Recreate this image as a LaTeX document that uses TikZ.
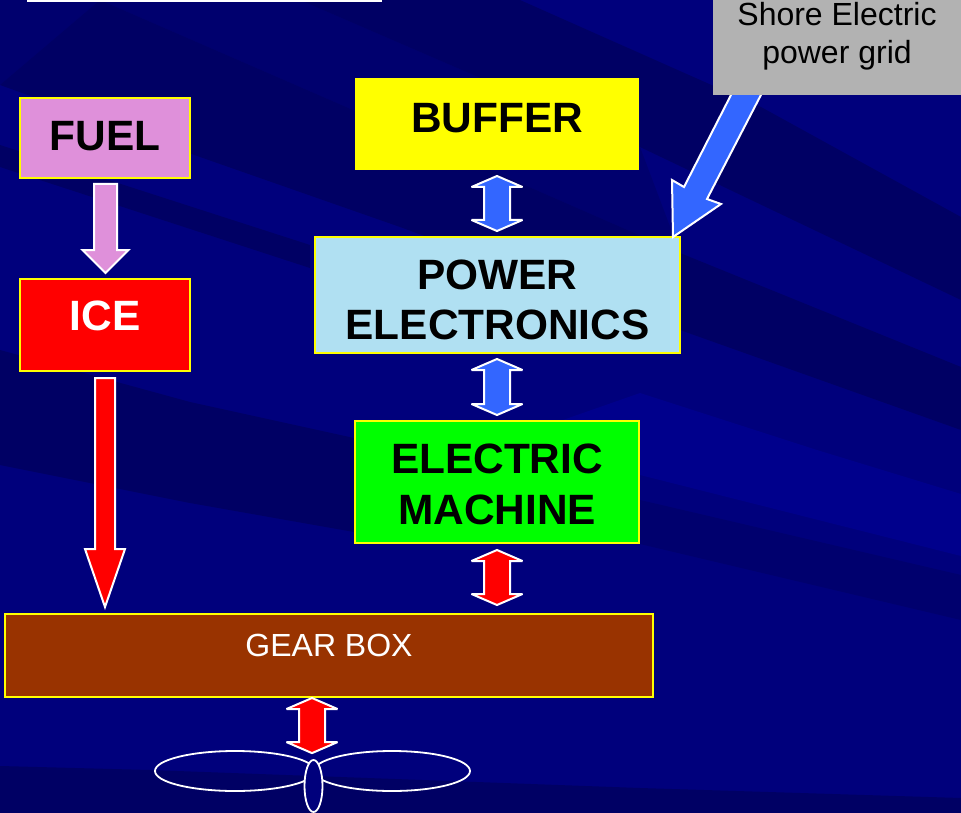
\documentclass[tikz,border=0pt]{standalone}
\usepackage{fontspec}
\setmainfont{Liberation Sans}
\usetikzlibrary{calc,shapes.geometric}
\definecolor{bgbase}{HTML}{00007C}
\definecolor{bgdark}{HTML}{000064}
\definecolor{bgmid}{HTML}{00006E}
\definecolor{bgbright}{HTML}{00008C}
\definecolor{fuelc}{HTML}{DF90DA}
\definecolor{pec}{HTML}{B0E0F2}
\definecolor{gearc}{HTML}{993300}
\definecolor{gridc}{HTML}{B2B2B2}
\definecolor{bluec}{HTML}{3366FF}
\definecolor{yel}{RGB}{255,255,0}
\definecolor{redc}{RGB}{255,0,0}
\definecolor{greenc}{RGB}{0,255,0}
\tikzset{
  box/.style={draw=yel,line width=2pt,inner sep=0pt,align=center,font=\fontsize{42.4}{50.5}\selectfont\bfseries,text=black},
  boxtext/.style={inner sep=0pt,align=center,font=\fontsize{42.4}{50.5}\selectfont\bfseries,text=black},
  plain/.style={inner sep=0pt,align=center,font=\fontsize{32}{38}\selectfont},
  blockarrow/.style={draw=white,line width=2pt,line join=miter,miter limit=4},
  band/.style={fill=#1,draw=none},
  blade/.style={draw=white,line width=1.8pt}
}
\newcommand{\blockdown}[6]{% from, to, colour, shaft half, head half, head length
  \draw[blockarrow,fill=#3] ($(#1)+(-#4,0)$) -- ($(#1)+(#4,0)$) -- ($(#2)+(#4,-#6)$) -- ($(#2)+(#5,-#6)$) -- (#2) -- ($(#2)+(-#5,-#6)$) -- ($(#2)+(-#4,-#6)$) -- cycle;}
\newcommand{\blockboth}[3]{% top, bottom, colour
  \draw[blockarrow,fill=#3] (#1) -- ($(#1)+(25.5,11)$) -- ($(#1)+(13,11)$) -- ($(#2)+(13,-11)$) -- ($(#2)+(25.5,-11)$) -- (#2) -- ($(#2)+(-25.5,-11)$) -- ($(#2)+(-13,-11)$) -- ($(#1)+(-13,11)$) -- ($(#1)+(-25.5,11)$) -- cycle;}
\begin{document}
\begin{tikzpicture}[x=1pt,y=-1pt]
\useasboundingbox (0,0) rectangle (961,813);
\clip (0,0) rectangle (961,813);
% background
\fill[bgbase] (0,0) rectangle (961,813);
\fill[band=bgmid] (0,0) -- (100,0) -- (0,85) -- cycle;
\fill[band=bgmid] (100,0) -- (300,0) -- (640,147) -- (680,253) -- (353,110) -- cycle;
\fill[band=bgdark] (100,0) -- (353,110) -- (680,253) -- (961,367) -- (961,430) -- (680,330) -- (400,227) -- (200,157) -- (0,85) -- cycle;
\fill[band=bgdark] (300,0) -- (520,0) -- (761,107) -- (961,217) -- (961,300) -- (640,147) -- cycle;
\fill[band=bgdark] (0,145) -- (310,245) -- (310,268) -- (0,167) -- cycle;
\fill[band=bgdark] (0,350) -- (190,402) -- (354,438) -- (640,500) -- (640,540) -- (354,532) -- (190,503) -- (0,465) -- cycle;
\fill[band=bgmid] (640,500) -- (961,575) -- (961,620) -- (640,544) -- cycle;
\fill[band=bgbright] (560,421) -- (640,393) -- (817,450) -- (961,494) -- (961,556) -- (640,475) -- cycle;
\fill[band=bgdark] (0,766) -- (150,770) -- (640,788) -- (961,798) -- (961,813) -- (0,813) -- cycle;
% top frame
\node[draw=white,line width=2pt,minimum width=353pt,minimum height=30pt,anchor=south west,inner sep=0pt] (frame) at (26.5,2.5) {};
% boxes
\node[box,fill=fuelc,minimum width=170pt,minimum height=80pt,text height=30pt,text depth=4pt] (fuel) at (105,138) {FUEL};
\node[box,fill=redc,text=white,minimum width=170pt,minimum height=92pt,text height=30pt,text depth=20pt] (ice) at (105,325) {ICE};
\node[box,fill=yel,minimum width=282pt,minimum height=90pt,text height=30pt,text depth=12pt] (buffer) at (497,124) {BUFFER};
\node[box,fill=pec,minimum width=365pt,minimum height=116pt] (pe) at (497.5,295) {};
\node[boxtext] (pelabel) at ($(pe.center)+(0,5)$) {POWER\\ELECTRONICS};
\node[box,fill=greenc,minimum width=284pt,minimum height=122pt] (em) at (497,482) {};
\node[boxtext] (emlabel) at ($(em.center)+(0,2.5)$) {ELECTRIC\\MACHINE};
\node[box,fill=gearc,minimum width=648pt,minimum height=83pt,font=\fontsize{32}{38}\selectfont,text=white,text height=23pt,text depth=21pt] (gear) at (329,655.5) {GEAR BOX};
% propeller
\node[blade,ellipse,minimum width=160pt,minimum height=40pt,inner sep=0pt] (bladeL) at (235,771) {};
\node[blade,ellipse,minimum width=156pt,minimum height=40pt,inner sep=0pt] (bladeR) at (392,771) {};
\node[blade,ellipse,fill=bgbase,minimum width=18pt,minimum height=52pt,inner sep=0pt] (hub) at (313.5,786) {};
% arrows
\coordinate (a1) at ($(fuel.south)+(0.5,5)$);
\coordinate (b1) at ($(ice.north)+(0.5,-5)$);
\blockdown{a1}{b1}{fuelc}{11.5}{23}{23}
\coordinate (a2) at ($(ice.south)+(0,6)$);
\coordinate (b2) at ($(ice.south |- gear.north)+(0,-6)$);
\blockdown{a2}{b2}{redc}{10}{20}{58}
\coordinate (c1) at ($(buffer.south)+(0,6)$);
\coordinate (d1) at ($(pe.north)+(-0.5,-5)$);
\blockboth{c1}{d1}{bluec}
\coordinate (c2) at ($(pe.south)+(-0.5,5)$);
\coordinate (d2) at ($(em.north)+(0,-5)$);
\blockboth{c2}{d2}{bluec}
\coordinate (c3) at ($(em.south)+(0,6)$);
\coordinate (d3) at ($(em.south |- gear.north)+(0,-8)$);
\blockboth{c3}{d3}{redc}
\coordinate (c4) at ($(hub.north |- gear.south)+(-1.5,0)$);
\coordinate (d4) at ($(hub.north)+(-1.5,-6)$);
\blockboth{c4}{d4}{redc}
% shore grid arrow
\coordinate (tip) at ($(pe.north east)+(-8,1)$);
\draw[blockarrow,fill=bluec] (tip) -- ($(tip)+(48,-33)$) -- ($(tip)+(34,-38)$) -- ($(tip)+(90,-146)$) -- ($(tip)+(60,-146)$) -- ($(tip)+(11,-50)$) -- ($(tip)+(-1,-57)$) -- cycle;
\node[plain,fill=gridc,minimum width=250pt,minimum height=125pt,text=black] (grid) at (838,32.5) {};
\node[plain,text=black] (gridlabel) at (837,36.5) {Shore Electric\\power grid};
\end{tikzpicture}
\end{document}
